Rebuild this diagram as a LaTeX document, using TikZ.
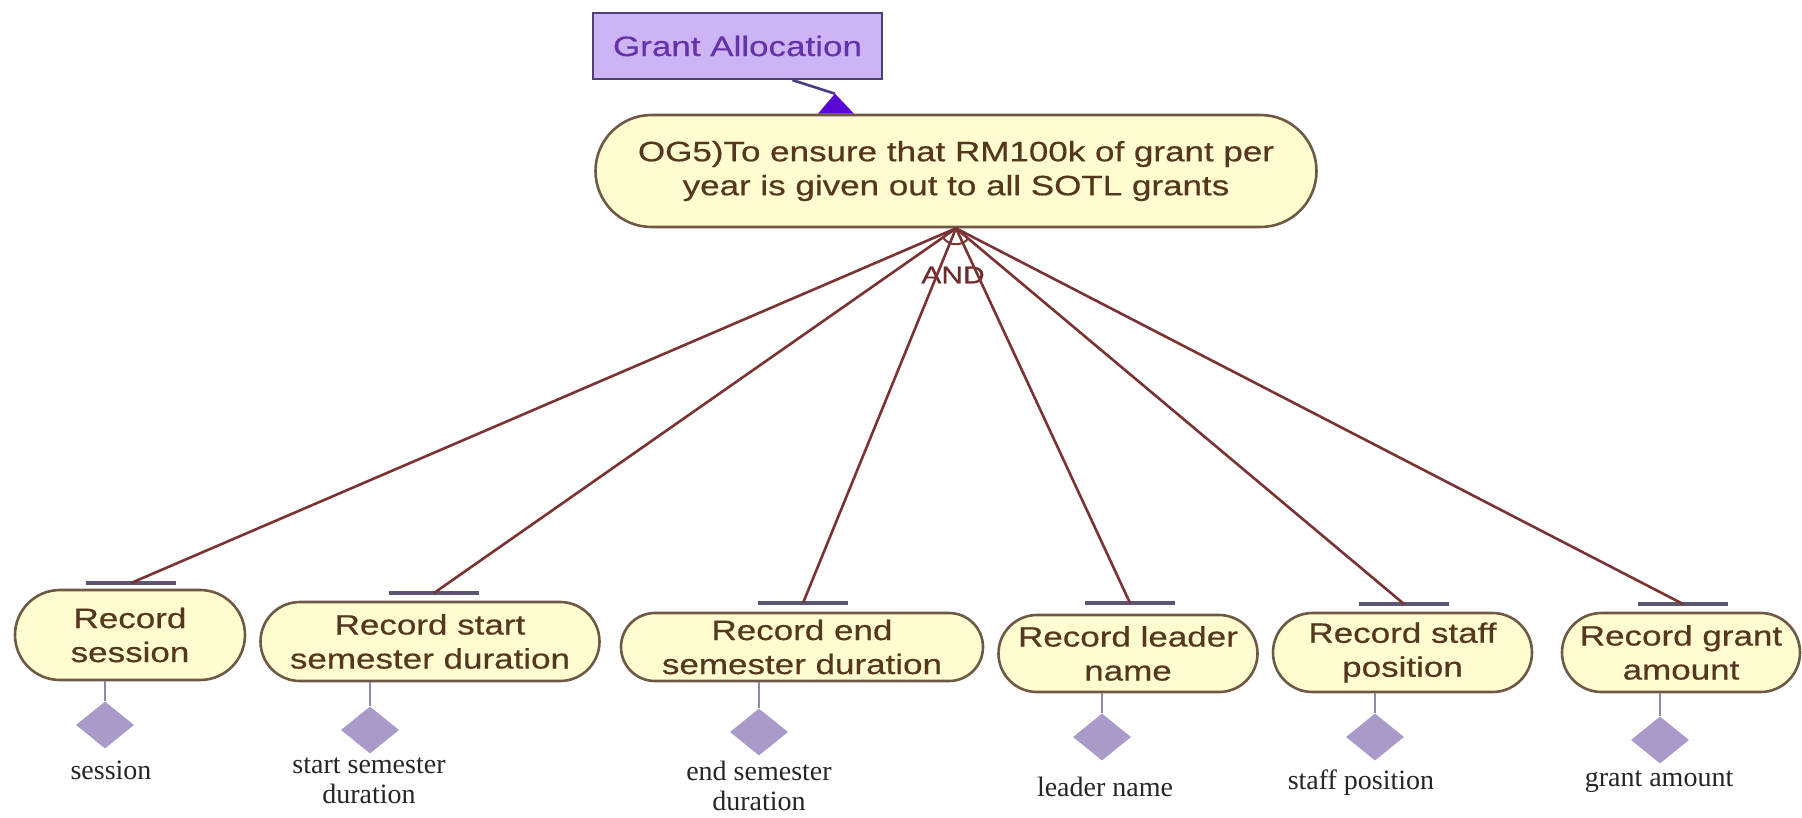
\documentclass[tikz,border=0pt]{standalone}
\usepackage{fontspec}
\usetikzlibrary{shapes.misc,shapes.geometric,calc}
\newfontfamily\goalfont[FakeStretch=1.25,FakeBold=0.5]{Liberation Sans}
\newfontfamily\resfont{Liberation Serif}
\definecolor{ovalfill}{HTML}{FFFCCF}
\definecolor{ovaldraw}{HTML}{6E5846}
\definecolor{ovaltext}{HTML}{553720}
\definecolor{linkred}{HTML}{7A3232}
\definecolor{barcol}{HTML}{5C5470}
\definecolor{stemcol}{HTML}{9088A6}
\definecolor{diacol}{HTML}{A99AC9}
\definecolor{boxfill}{HTML}{CDB5F5}
\definecolor{boxdraw}{HTML}{4E4070}
\definecolor{boxtext}{HTML}{6632AA}
\definecolor{tricol}{HTML}{5A06D6}
\definecolor{respcol}{HTML}{4A3A88}
\begin{document}
\begin{tikzpicture}[x=1pt,y=-1pt,
  goalnode/.style={rounded rectangle, draw=ovaldraw, line width=2.6pt, fill=ovalfill,
    text=ovaltext, inner sep=0pt, align=center,
    font={\goalfont\fontsize{28}{34}\selectfont}},
  catbox/.style={rectangle, draw=boxdraw, line width=2.2pt, fill=boxfill, text=boxtext,
    inner sep=0pt, minimum width=289pt, minimum height=66pt,
    font={\goalfont\fontsize{28}{34}\selectfont}},
  andlink/.style={draw=linkred, line width=2.6pt},
  bar/.style={draw=barcol, line width=3.5pt},
  stem/.style={draw=stemcol, line width=2pt},
  resdia/.style={diamond, fill=diacol, inner sep=0pt, minimum width=58pt, minimum height=47pt},
  reslbl/.style={align=center, inner sep=0pt, text=black!85,
    font={\resfont\fontsize{28}{30}\selectfont}},
  andlbl/.style={inner sep=0pt, text=linkred!90!black, font={\goalfont\fontsize{24}{28}\selectfont}},
  resp/.style={draw=respcol, line width=2.6pt},
  tri/.style={fill=tricol}
]
\fill[white] (0,0) rectangle (1802,817);
\useasboundingbox (0,0) rectangle (1802,817);

% top goal and its category box
\node[goalnode, minimum width=721pt, minimum height=112pt] (goal) at (956,171)
  {OG5)To ensure that RM100k of grant per\\year is given out to all SOTL grants};
\node[catbox] (ga) at (737.5,46) {Grant Allocation};
\coordinate (gaout) at ($(ga.south)+(55,0)$);
\coordinate (tip) at ($(goal.north)+(-121,-20)$);
\draw[resp] (gaout) -- (tip);
\fill[tri] (tip) -- ++(-17,20) -- ++(36,0) -- cycle;

% AND decomposition
\coordinate (jn) at (goal.south);
\node[andlbl] (andl) at (953,275) {AND};

% sub-goals
\node[goalnode, minimum width=230pt, minimum height=90pt] (s1) at (130,635) {Record\\session};
\node[goalnode, minimum width=339pt, minimum height=79pt] (s2) at (430,641.5) {Record start\\semester duration};
\node[goalnode, minimum width=362pt, minimum height=68pt] (s3) at (802,647) {Record end\\semester duration};
\node[goalnode, minimum width=259pt, minimum height=77pt] (s4) at (1128,653.5) {Record leader\\name};
\node[goalnode, minimum width=259pt, minimum height=79pt] (s5) at (1402.5,652.5) {Record staff\\position};
\node[goalnode, minimum width=238pt, minimum height=79pt] (s6) at (1681,652.5) {Record grant\\amount};

% decomposition bars above the sub-goals
\coordinate (b1) at (131,583);
\coordinate (b2) at (434,593);
\coordinate (b3) at (803,603);
\coordinate (b4) at (1130,603);
\coordinate (b5) at (1404,604);
\coordinate (b6) at (1683,604);
\foreach \b in {b1,b2,b3,b4,b5,b6}{
  \draw[bar] ($(\b)+(-45,0)$) -- ($(\b)+(45,0)$);
  \draw[andlink] (jn) -- (\b);
}
\draw[andlink, line width=2pt] ($(jn)+(40:16)$) arc[start angle=40, end angle=140, radius=16];

% resources
\node[resdia] (d1) at (105,725) {};
\node[resdia] (d2) at (370,730) {};
\node[resdia] (d3) at (759,732) {};
\node[resdia] (d4) at (1102,737) {};
\node[resdia] (d5) at (1375,737) {};
\node[resdia] (d6) at (1660,740) {};
\draw[stem] (d1.north |- s1.south) -- (d1.north);
\draw[stem] (d2.north |- s2.south) -- (d2.north);
\draw[stem] (d3.north |- s3.south) -- (d3.north);
\draw[stem] (d4.north |- s4.south) -- (d4.north);
\draw[stem] (d5.north |- s5.south) -- (d5.north);
\draw[stem] (d6.north |- s6.south) -- (d6.north);

\node[reslbl] (r1) at (111,770) {session};
\node[reslbl] (r2) at (369,781) {start semester\\duration};
\node[reslbl] (r3) at (759,786) {end semester\\duration};
\node[reslbl] (r4) at (1105,787) {leader name};
\node[reslbl] (r5) at (1361,783) {staff position};
\node[reslbl] (r6) at (1659,782) {grant amount};
\end{tikzpicture}
\end{document}
